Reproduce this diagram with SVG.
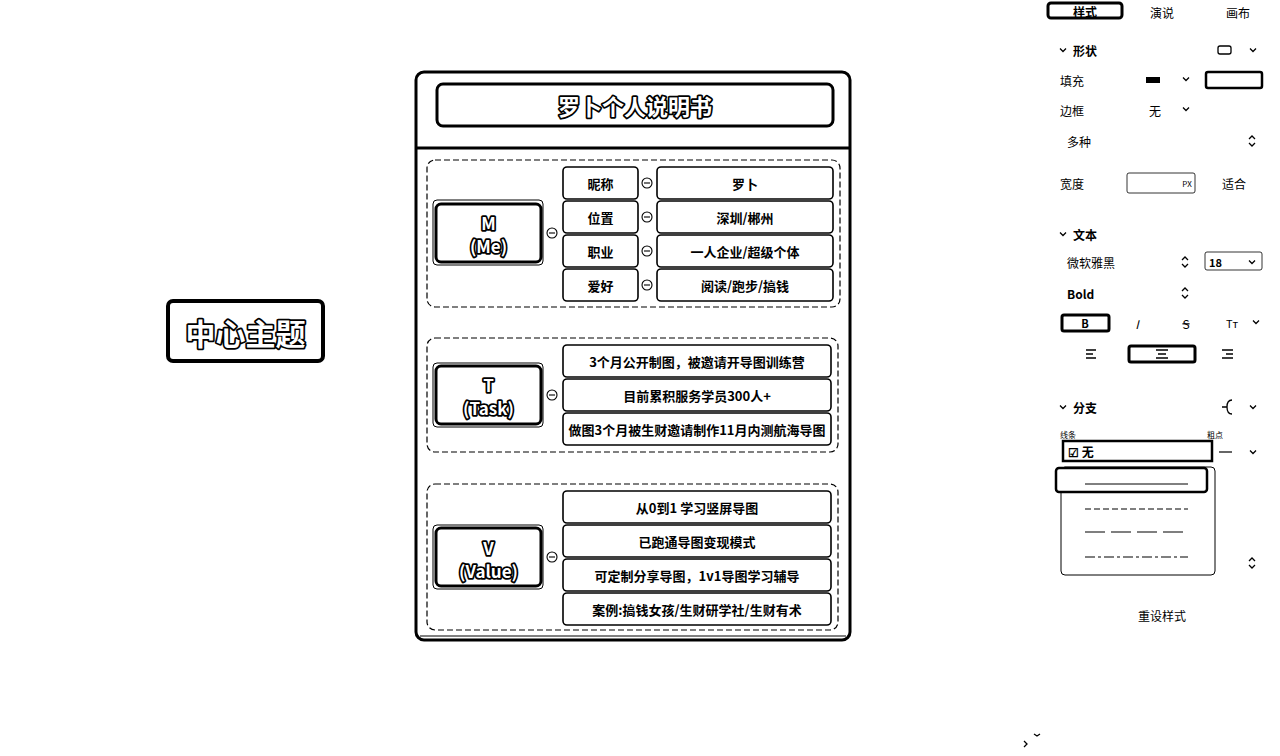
<svg xmlns="http://www.w3.org/2000/svg" width="1280" height="756" viewBox="0 0 1280 756">
<style>
text{font-family:"Noto Sans CJK SC","Noto Sans",sans-serif;fill:#000}
.c{text-anchor:middle;dominant-baseline:central}
.b{font-weight:bold;font-size:13px}
.o{fill:#fff;stroke:#000;stroke-width:3.5px;paint-order:stroke;stroke-linejoin:round;font-weight:bold}
.box{fill:#fff;stroke:#000;stroke-width:1.6}
.dash{fill:none;stroke:#000;stroke-width:1.2;stroke-dasharray:6 3}
.tog{fill:#fff;stroke:#000;stroke-width:1.1}
.p{font-size:12px}
.chev{fill:none;stroke:#000;stroke-width:1.3}
</style>
<defs>
<g id="toggle"><circle r="5" class="tog"/><line x1="-3" y1="0" x2="3" y2="0" stroke="#000" stroke-width="1.1"/></g>
<path id="chv" d="M-3,-1.5 L0,1.5 L3,-1.5" class="chev"/>
<path id="updn" d="M-3,-2 L0,-5 L3,-2 M-3,2 L0,5 L3,2" class="chev"/>
</defs>
<rect width="1280" height="756" fill="#fff"/>

<g id="center-topic">
<rect x="168" y="301" width="155" height="60" rx="5" fill="#fff" stroke="#000" stroke-width="4"/>
<text x="245.5" y="332" class="c o" font-size="30">中心主题</text>
</g>

<g id="frame">
<rect x="416" y="72" width="434" height="568" rx="8" fill="#fff" stroke="#000" stroke-width="3"/>
<line x1="416" y1="148" x2="850" y2="148" stroke="#000" stroke-width="3"/>
<line x1="420" y1="636" x2="846" y2="636" stroke="#000" stroke-width="1"/>
</g>

<g id="title">
<rect x="437" y="84" width="396" height="42" rx="6" fill="#fff" stroke="#000" stroke-width="3"/>
<text x="635" y="105" class="c o" font-size="22">罗卜个人说明书</text>
</g>

<g id="section-m">
<rect x="427" y="160" width="413" height="147" rx="8" class="dash"/>
</g>
<g id="section-t">
<rect x="427" y="338" width="411" height="114" rx="8" class="dash"/>
</g>
<g id="section-v">
<rect x="427" y="484" width="411" height="146" rx="8" class="dash"/>
</g>

<g id="node-m">
<rect x="433" y="200" width="110" height="65" rx="4" fill="none" stroke="#000" stroke-width="1"/>
<rect x="436" y="204" width="105" height="58" rx="5" fill="#fff" stroke="#000" stroke-width="3"/>
<text x="488.5" y="222" class="c o" font-size="17">M</text>
<text x="488.5" y="245" class="c o" font-size="17">(Me)</text>
</g>
<g id="node-t">
<rect x="433" y="363" width="110" height="64" rx="4" fill="none" stroke="#000" stroke-width="1"/>
<rect x="436" y="366" width="105" height="58" rx="5" fill="#fff" stroke="#000" stroke-width="3"/>
<text x="488.5" y="384" class="c o" font-size="17">T</text>
<text x="488.5" y="407" class="c o" font-size="17">(Task)</text>
</g>
<g id="node-v">
<rect x="433" y="525" width="110" height="64" rx="4" fill="none" stroke="#000" stroke-width="1"/>
<rect x="436" y="528" width="105" height="58" rx="5" fill="#fff" stroke="#000" stroke-width="3"/>
<text x="488.5" y="547" class="c o" font-size="17">V</text>
<text x="488.5" y="570" class="c o" font-size="17">(Value)</text>
</g>

<g id="m-label-nickname"><rect x="563" y="167" width="75" height="32" rx="4" class="box"/><text x="600.5" y="183" class="c b">昵称</text></g>
<g id="m-label-location"><rect x="563" y="201" width="75" height="32" rx="4" class="box"/><text x="600.5" y="217" class="c b">位置</text></g>
<g id="m-label-job"><rect x="563" y="235" width="75" height="32" rx="4" class="box"/><text x="600.5" y="251" class="c b">职业</text></g>
<g id="m-label-hobby"><rect x="563" y="269" width="75" height="32" rx="4" class="box"/><text x="600.5" y="285" class="c b">爱好</text></g>

<g id="m-value-nickname"><rect x="657" y="167" width="176" height="32" rx="4" class="box"/><text x="745" y="183" class="c b">罗卜</text></g>
<g id="m-value-location"><rect x="657" y="201" width="176" height="32" rx="4" class="box"/><text x="745" y="217" class="c b">深圳/郴州</text></g>
<g id="m-value-job"><rect x="657" y="235" width="176" height="32" rx="4" class="box"/><text x="745" y="251" class="c b">一人企业/超级个体</text></g>
<g id="m-value-hobby"><rect x="657" y="269" width="176" height="32" rx="4" class="box"/><text x="745" y="285" class="c b">阅读/跑步/搞钱</text></g>

<g id="t-item-1"><rect x="563" y="345" width="268" height="32" rx="4" class="box"/><text x="697" y="361" class="c b">3个月公开制图，被邀请开导图训练营</text></g>
<g id="t-item-2"><rect x="563" y="379" width="268" height="32" rx="4" class="box"/><text x="697" y="395" class="c b">目前累积服务学员300人+</text></g>
<g id="t-item-3"><rect x="563" y="413" width="268" height="32" rx="4" class="box"/><text x="697" y="429" class="c b">做图3个月被生财邀请制作11月内测航海导图</text></g>

<g id="v-item-1"><rect x="563" y="491" width="268" height="32" rx="4" class="box"/><text x="697" y="507" class="c b">从0到1 学习竖屏导图</text></g>
<g id="v-item-2"><rect x="563" y="525" width="268" height="32" rx="4" class="box"/><text x="697" y="541" class="c b">已跑通导图变现模式</text></g>
<g id="v-item-3"><rect x="563" y="559" width="268" height="32" rx="4" class="box"/><text x="697" y="575" class="c b">可定制分享导图，1v1导图学习辅导</text></g>
<g id="v-item-4"><rect x="563" y="593" width="268" height="32" rx="4" class="box"/><text x="697" y="609" class="c b">案例:搞钱女孩/生财研学社/生财有术</text></g>

<g id="connectors">
<use href="#toggle" x="552" y="233"/>
<use href="#toggle" x="552" y="395"/>
<use href="#toggle" x="552" y="557"/>
<use href="#toggle" x="647" y="183"/>
<use href="#toggle" x="647" y="217"/>
<use href="#toggle" x="647" y="251"/>
<use href="#toggle" x="647" y="285"/>
</g>

<g id="panel">
<rect x="1048" y="3" width="74" height="15" rx="3" fill="#fff" stroke="#000" stroke-width="3"/>
<text x="1085" y="11" class="c p" font-weight="bold">样式</text>
<text x="1162" y="12" class="c p">演说</text>
<text x="1238" y="12" class="c p">画布</text>

<use href="#chv" x="1063" y="50"/>
<text x="1073" y="50" class="p" dominant-baseline="central" font-weight="bold">形状</text>
<rect x="1218" y="46" width="13" height="8" rx="2" class="chev"/>
<use href="#chv" x="1253" y="50"/>

<text x="1060" y="80" class="p" dominant-baseline="central">填充</text>
<rect x="1146" y="77" width="14" height="6" fill="#000"/>
<use href="#chv" x="1186" y="79"/>
<rect x="1206" y="72" width="56" height="16" rx="2" fill="#fff" stroke="#000" stroke-width="2.5"/>

<text x="1060" y="110" class="p" dominant-baseline="central">边框</text>
<text x="1155" y="110" class="c p">无</text>
<use href="#chv" x="1186" y="109"/>

<text x="1067" y="141" class="p" dominant-baseline="central" fill="#666">多种</text>
<use href="#updn" x="1252" y="141"/>

<text x="1060" y="183" class="p" dominant-baseline="central">宽度</text>
<rect x="1127" y="173" width="68" height="20" rx="2" fill="none" stroke="#000" stroke-width="0.8"/>
<text x="1187" y="183" class="c" font-size="8">PX</text>
<text x="1234" y="183" class="c p">适合</text>

<use href="#chv" x="1063" y="234"/>
<text x="1073" y="234" class="p" dominant-baseline="central" font-weight="bold">文本</text>

<text x="1067" y="262" class="p" dominant-baseline="central">微软雅黑</text>
<use href="#updn" x="1185" y="262"/>
<rect x="1205" y="252" width="57" height="18" rx="2" fill="none" stroke="#000" stroke-width="0.8"/>
<text x="1209" y="262" font-size="11" dominant-baseline="central" font-weight="bold">18</text>
<use href="#chv" x="1252" y="262"/>

<text x="1067" y="293" class="p" dominant-baseline="central" font-weight="bold">Bold</text>
<use href="#updn" x="1185" y="293"/>

<rect x="1062" y="315" width="47" height="16" rx="2" fill="#fff" stroke="#000" stroke-width="3"/>
<text x="1085" y="323" class="c" font-size="11" font-weight="bold">B</text>
<text x="1137" y="323" class="c" font-size="12" font-style="italic">I</text>
<text x="1186" y="323" class="c" font-size="12" text-decoration="line-through">S</text>
<text x="1232" y="323" class="c" font-size="11">Tт</text>
<use href="#chv" x="1256" y="322"/>

<path d="M1086,350 h10 M1086,354 h7 M1086,358 h10" class="chev"/>
<rect x="1129" y="346" width="66" height="16" rx="2" fill="#fff" stroke="#000" stroke-width="3"/>
<path d="M1156,350 h12 M1158,354 h8 M1156,358 h12" class="chev"/>
<path d="M1222,350 h11 M1226,354 h7 M1222,358 h11" class="chev"/>

<use href="#chv" x="1063" y="407"/>
<text x="1073" y="407" class="p" dominant-baseline="central" font-weight="bold">分支</text>
<path d="M1222,407 h5 M1232,400 q-5,0 -5,7 q0,7 5,7" class="chev"/>
<use href="#chv" x="1253" y="407"/>

<text x="1060" y="434" font-size="8" dominant-baseline="central">线条</text>
<text x="1207" y="434" font-size="8" dominant-baseline="central">粗点</text>
<rect x="1063" y="441" width="149" height="20" fill="#fff" stroke="#000" stroke-width="2.5"/>
<text x="1068" y="451" class="p" dominant-baseline="central" font-weight="bold">☑ 无</text>
<line x1="1219" y1="452" x2="1232" y2="452" stroke="#000" stroke-width="1.2"/>
<use href="#chv" x="1253" y="452"/>

<rect x="1061" y="467" width="154" height="108" rx="4" fill="#fff" stroke="#000" stroke-width="1"/>
<rect x="1056" y="468" width="151" height="24" rx="3" fill="#fff" stroke="#000" stroke-width="2.5"/>
<line x1="1085" y1="484" x2="1188" y2="484" stroke="#000" stroke-width="1"/>
<line x1="1085" y1="509" x2="1188" y2="509" stroke="#000" stroke-width="1.2" stroke-dasharray="6 3"/>
<line x1="1085" y1="532" x2="1188" y2="532" stroke="#000" stroke-width="1.2" stroke-dasharray="20 6"/>
<line x1="1085" y1="557" x2="1188" y2="557" stroke="#000" stroke-width="1.2" stroke-dasharray="10 3 3 3"/>
<use href="#updn" x="1252" y="563"/>

<text x="1162" y="615" class="c p">重设样式</text>
<path d="M1024,741 l3,3 l-3,3" class="chev"/>
<path d="M1034,734 l3,2 l3,-2" class="chev"/>
</g>
</svg>
